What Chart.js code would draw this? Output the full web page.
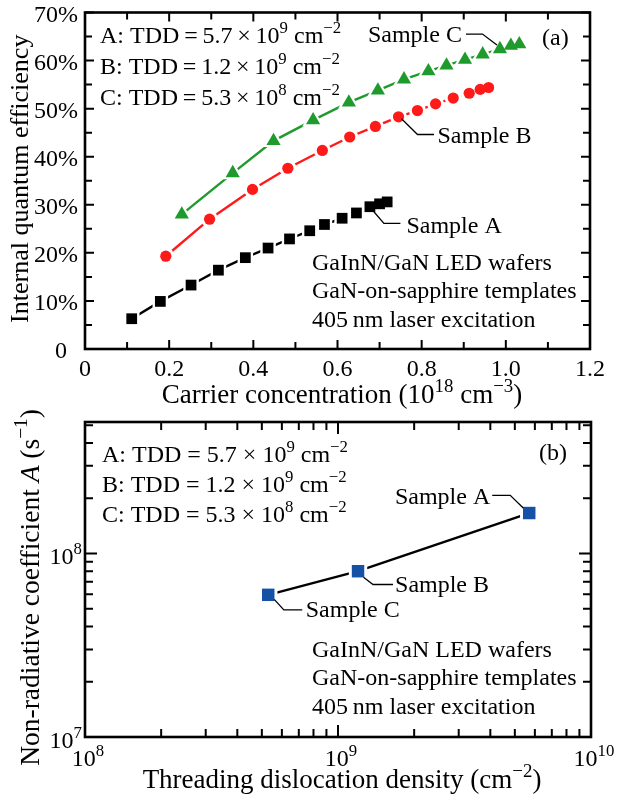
<!DOCTYPE html>
<html>
<head>
<meta charset="utf-8">
<script src="https://cdn.jsdelivr.net/npm/chart.js@4"></script>
<style>
  body { margin: 0; background: #fff; }
  canvas { position: absolute; left: 0; }
  #chartA { top: 0; }
  #chartB { top: 395px; }
</style>
</head>
<body>
<canvas id="chartA" width="620" height="410"></canvas>
<canvas id="chartB" width="620" height="403"></canvas>
<script>
// (a) IQE vs carrier concentration
const carrierA = [0.111, 0.179, 0.252, 0.317, 0.381, 0.435, 0.486, 0.534, 0.569, 0.611, 0.645, 0.677, 0.700, 0.718];
const iqeA     = [6.3, 9.9, 13.3, 16.4, 19.0, 21.0, 22.9, 24.6, 25.9, 27.2, 28.3, 29.6, 30.2, 30.6];
const carrierB = [0.192, 0.296, 0.398, 0.482, 0.564, 0.629, 0.690, 0.745, 0.790, 0.833, 0.875, 0.913, 0.939, 0.959];
const iqeB     = [19.3, 27.0, 33.2, 37.6, 41.3, 44.1, 46.3, 48.3, 49.6, 51.0, 52.2, 53.2, 54.0, 54.4];
const carrierC = [0.230, 0.351, 0.448, 0.542, 0.627, 0.696, 0.758, 0.816, 0.859, 0.903, 0.945, 0.986, 1.012, 1.032];
const iqeC     = [28.0, 36.6, 43.3, 47.6, 51.3, 53.8, 56.1, 57.8, 59.0, 60.2, 61.3, 62.4, 63.1, 63.4];

const xTicksA = [0, 0.2, 0.4, 0.6, 0.8, 1.0, 1.2];
const xLabelsA = ['0', '0.2', '0.4', '0.6', '0.8', '1.0', '1.2'];
const yTicksA = [0, 10, 20, 30, 40, 50, 60, 70];
const yLabelsA = ['0', '10%', '20%', '30%', '40%', '50%', '60%', '70%'];

// (b) non-radiative coefficient vs TDD
const samplesB = ['Sample A', 'Sample B', 'Sample C'];
const tdd = [5.7e9, 1.2e9, 5.3e8];
const coefA = [1.66e8, 8.0e7, 5.95e7];
const xDecadesB = [8, 9, 10];
const yDecadesB = [7, 8];

const TOP_B = 395; // page y of the second canvas

const SERIF = '"Liberation Serif", "Times New Roman", serif';
const font = (size, italic) => (italic ? 'italic ' : '') + size + 'px ' + SERIF;

// parts: [text, 'sup' | 'it' | undefined]
function richWidth(ctx, parts, size) {
  let w = 0;
  parts.forEach(p => {
    ctx.font = font(p[1] === 'sup' ? size * 0.7 : size, p[1] === 'it');
    w += ctx.measureText(p[0]).width;
  });
  return w;
}
function drawRich(ctx, parts, x, y, size, align) {
  const w = richWidth(ctx, parts, size);
  let cx = align === 'center' ? x - w / 2 : align === 'right' ? x - w : x;
  ctx.textAlign = 'left';
  ctx.textBaseline = 'alphabetic';
  parts.forEach(p => {
    const sup = p[1] === 'sup';
    ctx.font = font(sup ? size * 0.7 : size, p[1] === 'it');
    ctx.fillText(p[0], cx, sup ? y - size * 0.42 : y);
    cx += ctx.measureText(p[0]).width;
  });
}
function polyline(ctx, P, offs) {
  ctx.beginPath();
  offs.forEach((o, i) => i ? ctx.lineTo(P.x + o[0], P.y + o[1]) : ctx.moveTo(P.x + o[0], P.y + o[1]));
  ctx.stroke();
}
function frameAndTicks(chart, xt, yt) {
  const { ctx, chartArea: a, scales: { x, y } } = chart;
  ctx.strokeStyle = '#000';
  ctx.lineWidth = 2;
  ctx.beginPath();
  xt.forEach(([v, len]) => {
    const px = x.getPixelForValue(v);
    ctx.moveTo(px, a.bottom); ctx.lineTo(px, a.bottom - len);
    ctx.moveTo(px, a.top); ctx.lineTo(px, a.top + len);
  });
  yt.forEach(([v, len]) => {
    const py = y.getPixelForValue(v);
    ctx.moveTo(a.left, py); ctx.lineTo(a.left + len, py);
    ctx.moveTo(a.right, py); ctx.lineTo(a.right - len, py);
  });
  ctx.stroke();
  ctx.lineWidth = 2.6;
  ctx.strokeRect(a.left, a.top, a.right - a.left, a.bottom - a.top);
}
// marker datasets come right after their line dataset
const pt = (chart, ds, i) => chart.getDatasetMeta(ds).data[i];

const tdds = (thin) => {
  const s = thin ? '\u2009' : ' ';
  return [
    [[': TDD' + s + '=' + s + '5.7' + s + '×' + s + '10'], ['9', 'sup'], [' cm'], ['−2', 'sup']],
    [[': TDD' + s + '=' + s + '1.2' + s + '×' + s + '10'], ['9', 'sup'], [' cm'], ['−2', 'sup']],
    [[': TDD' + s + '=' + s + '5.3' + s + '×' + s + '10'], ['8', 'sup'], [' cm'], ['−2', 'sup']]
  ];
};
const notes = ['GaInN/GaN LED wafers', 'GaN-on-sapphire templates', '405\u2009nm laser excitation'];

const panelA = {
  id: 'panelA',
  afterDraw(chart) {
    const { ctx, chartArea: a, scales: { x, y } } = chart;
    ctx.save();
    const xt = [], yt = [];
    for (let i = 0; i <= 12; i++) xt.push([i / 10, i % 2 ? 7 : 9]);
    for (let i = 0; i <= 14; i++) yt.push([i * 5, i % 2 ? 7 : 9]);
    frameAndTicks(chart, xt, yt);

    ctx.fillStyle = '#000';
    ctx.font = font(24);
    ctx.textAlign = 'center'; ctx.textBaseline = 'alphabetic';
    xTicksA.forEach((v, i) => ctx.fillText(xLabelsA[i], x.getPixelForValue(v), a.bottom + 27));
    ctx.textAlign = 'right'; ctx.textBaseline = 'middle';
    yTicksA.forEach((v, i) => {
      const lx = yLabelsA[i] === '0' ? a.left - 18 : a.left - 7;
      ctx.fillText(yLabelsA[i], lx, y.getPixelForValue(v) + 3);
    });

    drawRich(ctx, [['Carrier concentration (10'], ['18', 'sup'], [' cm'], ['−3', 'sup'], [')']], 342, 403, 27, 'center');
    ctx.save();
    ctx.translate(28, (a.top + a.bottom) / 2 - 2);
    ctx.rotate(-Math.PI / 2);
    drawRich(ctx, [['Internal quantum efficiency']], 0, 0, 26, 'center');
    ctx.restore();

    tdds(true).forEach((parts, i) => drawRich(ctx, [[['A', 'B', 'C'][i]]].concat(parts), 100, 43 + i * 31, 24, 'left'));
    drawRich(ctx, [['(a)']], 542, 45, 24, 'left');
    notes.forEach((t, i) => drawRich(ctx, [[t]], 312, 270 + i * 28.4, 24, 'left'));

    // leaders
    ctx.lineWidth = 1.3;
    const pc = pt(chart, 5, 11);
    polyline(ctx, pc, [[-3, -4], [-17.5, -15], [-34, -15]]);
    drawRich(ctx, [['Sample C']], pc.x - 38, pc.y - 7, 24, 'right');
    const pb = pt(chart, 3, 7);
    polyline(ctx, pb, [[3, 2], [19, 17.7], [35.5, 17.7]]);
    drawRich(ctx, [['Sample B']], pb.x + 39, pb.y + 26, 24, 'left');
    const pa = pt(chart, 1, 11);
    polyline(ctx, pa, [[4, 5], [14, 16.7], [30.5, 16.7]]);
    drawRich(ctx, [['Sample A']], pa.x + 36.5, pa.y + 26.7, 24, 'left');
    ctx.restore();
  }
};

const panelB = {
  id: 'panelB',
  afterDraw(chart) {
    const { ctx, chartArea: a, scales: { x, y } } = chart;
    const Y = v => v - TOP_B;
    ctx.save();
    const xt = [], yt = [];
    xDecadesB.forEach(d => {
      xt.push([Math.pow(10, d), 12]);
      if (d < 10) for (let m = 2; m <= 9; m++) xt.push([m * Math.pow(10, d), 8]);
    });
    yDecadesB.forEach(d => {
      yt.push([Math.pow(10, d), 12]);
      for (let m = 2; m <= 9; m++) {
        const v = m * Math.pow(10, d);
        if (v < y.max) yt.push([v, 8]);
      }
    });
    frameAndTicks(chart, xt, yt);

    ctx.fillStyle = '#000';
    xDecadesB.forEach(d => {
      drawRich(ctx, [['10'], [String(d), 'sup']], x.getPixelForValue(Math.pow(10, d)) + 3, a.bottom + 29, 24, 'center');
    });
    yDecadesB.forEach(d => {
      drawRich(ctx, [['10'], [String(d), 'sup']], a.left - 3, y.getPixelForValue(Math.pow(10, d)) + 11, 24, 'right');
    });

    drawRich(ctx, [['Threading dislocation density (cm'], ['−2', 'sup'], [')']], 342, Y(788), 27, 'center');
    ctx.save();
    ctx.translate(39, (a.top + a.bottom) / 2 + 8);
    ctx.rotate(-Math.PI / 2);
    drawRich(ctx, [['Non-radiative coefficient '], ['A', 'it'], [' (s'], ['−1', 'sup'], [')']], 0, 0, 27.5, 'center');
    ctx.restore();

    tdds(false).forEach((parts, i) => drawRich(ctx, [[['A', 'B', 'C'][i]]].concat(parts), 102, Y(462 + i * 30), 24, 'left'));
    drawRich(ctx, [['(b)']], 539, Y(460), 24, 'left');
    notes.forEach((t, i) => drawRich(ctx, [[t]], 312, Y(657 + i * 28.3), 24, 'left'));

    ctx.lineWidth = 1.3;
    const pa = pt(chart, 1, 0);
    polyline(ctx, pa, [[-6, -5], [-19, -17.7], [-37, -17.7]]);
    drawRich(ctx, [[samplesB[0]]], pa.x - 39, pa.y - 9.4, 24, 'right');
    const pb = pt(chart, 1, 1);
    polyline(ctx, pb, [[5.5, 6], [15, 13.3], [35, 13.3]]);
    drawRich(ctx, [[samplesB[1]]], pb.x + 37, pb.y + 21, 24, 'left');
    const pc = pt(chart, 1, 2);
    polyline(ctx, pc, [[6, 4.5], [15.6, 15], [34, 15]]);
    drawRich(ctx, [[samplesB[2]]], pc.x + 37.5, pc.y + 22.4, 24, 'left');
    ctx.restore();
  }
};

const series = (xs, ys) => xs.map((v, i) => ({ x: v, y: ys[i] }));
// line with white "gap" shapes behind the markers, then the markers on top
const gapLine = (data, color, style, gap) => ({
  data, borderColor: color, borderWidth: 2.4, order: 2,
  pointStyle: style, pointRadius: gap, pointBackgroundColor: '#fff', pointBorderWidth: 0,
  showLine: true, tension: 0, clip: false
});
const markers = (data, color, style, r) => ({
  data, showLine: false, order: 1,
  pointStyle: style, pointRadius: r, pointBackgroundColor: color, pointBorderWidth: 0, clip: false
});

const dataA = series(carrierA, iqeA), dataB = series(carrierB, iqeB), dataC = series(carrierC, iqeC);
new Chart(document.getElementById('chartA'), {
  type: 'line',
  data: {
    datasets: [
      gapLine(dataA, '#000000', 'rect', 11), markers(dataA, '#000000', 'rect', 7.6),
      gapLine(dataB, '#ff1a1a', 'circle', 8.5), markers(dataB, '#ff1a1a', 'circle', 5.6),
      gapLine(dataC, '#1f9a2c', 'triangle', 12.5), markers(dataC, '#1f9a2c', 'triangle', 8.2)
    ]
  },
  options: {
    responsive: false, animation: false, events: [],
    layout: { padding: { left: 85, right: 30, top: 11, bottom: 61 } },
    plugins: { legend: { display: false }, tooltip: { enabled: false } },
    scales: {
      x: { type: 'linear', min: 0, max: 1.2, display: false },
      y: { type: 'linear', min: 0, max: 70, display: false }
    }
  },
  plugins: [panelA]
});

const dataTdd = series(tdd, coefA);
new Chart(document.getElementById('chartB'), {
  type: 'line',
  data: {
    datasets: [
      gapLine(dataTdd, '#000000', 'rect', 13),
      markers(dataTdd, '#1552a6', 'rect', 8.8)
    ]
  },
  options: {
    responsive: false, animation: false, events: [],
    layout: { padding: { left: 85, right: 29, top: 422 - TOP_B, bottom: 61 } },
    plugins: { legend: { display: false }, tooltip: { enabled: false } },
    scales: {
      x: { type: 'logarithmic', min: 1e8, max: 1e10, display: false },
      y: { type: 'logarithmic', min: 1e7, max: 5.2e8, display: false }
    }
  },
  plugins: [panelB]
});
</script>
</body>
</html>
